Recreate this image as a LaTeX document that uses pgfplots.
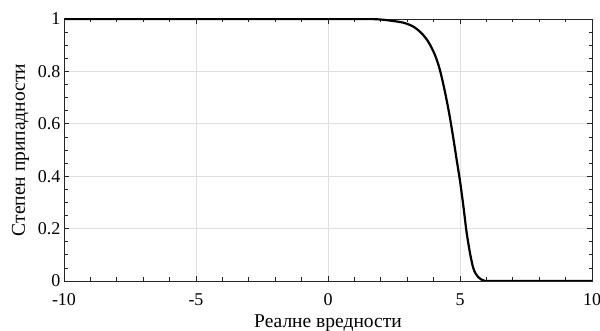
\documentclass[border=0pt]{standalone}
\usepackage{fontspec}
\setmainfont{Liberation Serif}
\usepackage{pgfplots}
\pgfplotsset{compat=1.18}
\begin{document}
\begin{tikzpicture}
\begin{axis}[
  width=528bp, height=262bp, scale only axis,
  xmin=-10, xmax=10, ymin=0, ymax=1,
  xtick={-10,-5,0,5,10},
  ytick={0,0.2,0.4,0.6,0.8,1},
  minor x tick num=4,
  minor y tick num=3,
  tick align=inside,
  major tick length=5bp,
  minor tick length=3.5bp,
  grid=major,
  major grid style={black!12, line width=0.7bp},
  axis line style={line width=0.8bp, black!85},
  every tick/.style={black!85, line width=0.7bp},
  /pgf/number format/assume math mode=true,
  ticklabel style={font=\fontsize{18bp}{20bp}\selectfont},
  xticklabel style={anchor=base, yshift=-24bp},
  label style={font=\fontsize{19.5bp}{22bp}\selectfont},
  xlabel={Реалне вредности},
  ylabel={Степен припадности},
  xlabel style={at={(axis description cs:0.5,-0.1756)}, anchor=base},
  ylabel style={at={(axis description cs:-0.0739,0.5)}, anchor=base},
]
\coordinate (O) at (rel axis cs:0,0);
\addplot[black, line width=2.2bp, smooth] coordinates {
(-10,1) (0,1) (1.5,1) (2.0,0.998) (2.35,0.994) (2.85,0.986) (3.23,0.971) (3.55,0.945) (3.80,0.913) (4.05,0.863) (4.24,0.805) (4.43,0.722) (4.60,0.634) (4.75,0.543) (4.87,0.465) (5.0,0.382) (5.13,0.284) (5.25,0.186) (5.38,0.106) (5.50,0.05) (5.60,0.027) (5.69,0.015) (5.80,0.006) (5.92,0.001) (6.05,0) (7,0) (10,0)
};
\end{axis}
\pgfresetboundingbox
\path ([shift={(-64bp,-50bp)}]O) rectangle ([shift={(536bp,281bp)}]O);
\end{tikzpicture}
\end{document}
